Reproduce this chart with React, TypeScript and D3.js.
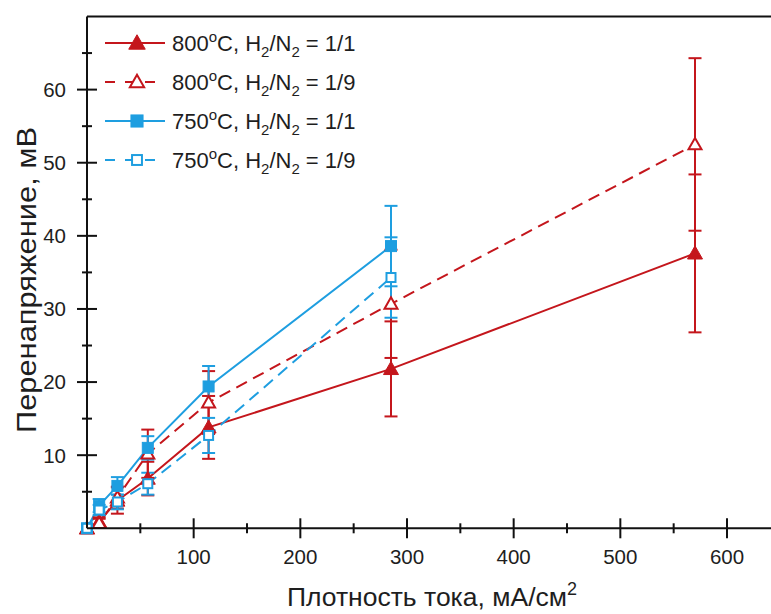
import React from "react";
import * as d3 from "d3";

// ---- data ----
const xValues = [0, 11.4, 28.5, 57, 114, 285, 570];

const red800_11 = [0, 0.9, 3.8, 6.8, 13.8, 21.8, 37.6];
const red800_11Err = [0, 0.6, 1.8, 2.3, 4.3, 6.5, 10.8];

const red800_19 = [0, 0.7, 4.2, 10.2, 17.2, 30.7, 52.5];
const red800_19Err = [0, 0.6, 1.5, 3.3, 4.3, 7.4, 11.8];

const blue750_11 = [0, 3.1, 5.8, 11.0, 19.4, 38.6];
const blue750_11Err = [0, 0.9, 1.2, 1.6, 2.8, 5.5];

const blue750_19 = [0, 2.5, 3.6, 6.1, 12.7, 34.3];
const blue750_19Err = [0, 0.7, 1.0, 1.5, 2.4, 5.5];

const xTicksMajor = [100, 200, 300, 400, 500, 600];
const xTicksMinor = [50, 150, 250, 350, 450, 550];
const yTicksMajor = [10, 20, 30, 40, 50, 60];
const yTicksMinor = [5, 15, 25, 35, 45, 55, 65];

const RED = "#c4161c";
const BLUE = "#1e9ee0";
const FONT = "'Liberation Sans', Arial, sans-serif";
const TXT = "#1e1e1e";

type Marker = "triFilled" | "triOpen" | "sqFilled" | "sqOpen";

const seriesList: {
  name: string;
  temp: string;
  ratio: string;
  ys: number[];
  errs: number[];
  color: string;
  dashed: boolean;
  marker: Marker;
}[] = [
  { name: "a", temp: "800", ratio: "1/1", ys: red800_11, errs: red800_11Err, color: RED, dashed: false, marker: "triFilled" },
  { name: "b", temp: "800", ratio: "1/9", ys: red800_19, errs: red800_19Err, color: RED, dashed: true, marker: "triOpen" },
  { name: "c", temp: "750", ratio: "1/1", ys: blue750_11, errs: blue750_11Err, color: BLUE, dashed: false, marker: "sqFilled" },
  { name: "d", temp: "750", ratio: "1/9", ys: blue750_19, errs: blue750_19Err, color: BLUE, dashed: true, marker: "sqOpen" },
];

const W = 771;
const H = 614;
const left = 87;
const right = 775;
const top = 16.5;
const bottom = 528.3;

const x = d3.scaleLinear().domain([0, 645]).range([left, right]);
const y = d3.scaleLinear().domain([0, 70]).range([bottom, top]);

function MarkerShape({ kind, cx, cy, color, scale = 1 }: { kind: Marker; cx: number; cy: number; color: string; scale?: number }) {
  if (kind === "triFilled" || kind === "triOpen") {
    const open = kind === "triOpen";
    const s = (open ? 6.5 : 7.5) * scale;
    const pts = `${cx},${cy - s * 1.0} ${cx - s},${cy + s * 0.75} ${cx + s},${cy + s * 0.75}`;
    return (
      <polygon
        points={pts}
        fill={open ? "#fff" : color}
        stroke={color}
        strokeWidth={open ? 2 : 1}
        strokeLinejoin="miter"
      />
    );
  }
  const open = kind === "sqOpen";
  const s = (open ? 4.5 : 5.5) * scale;
  return (
    <rect
      x={cx - s}
      y={cy - s}
      width={2 * s}
      height={2 * s}
      fill={open ? "#fff" : color}
      stroke={color}
      strokeWidth={open ? 2 : 1}
    />
  );
}

export default function App() {
  const line = d3
    .line<[number, number]>()
    .x((d) => x(d[0]))
    .y((d) => y(d[1]));

  const legendRows = [43, 82, 121, 160];

  return (
    <svg
      width={W}
      height={H}
      style={{ position: "absolute", left: 0, top: 0, background: "#fff" }}
      fontFamily={FONT}
    >
      <rect x={0} y={0} width={W} height={H} fill="#fff" />

      {/* lines */}
      {seriesList.map((s) => (
        <path
          key={"l" + s.name}
          d={line(s.ys.map((v, i) => [xValues[i], v] as [number, number])) || ""}
          fill="none"
          stroke={s.color}
          strokeWidth={2}
          strokeDasharray={s.dashed ? "12,7" : undefined}
        />
      ))}

      {/* error bars */}
      {seriesList.map((s) =>
        s.ys.map((v, i) => {
          if (i === 0) return null;
          const cx = x(xValues[i]);
          const y1 = y(v + s.errs[i]);
          const y2 = y(v - s.errs[i]);
          return (
            <g key={"e" + s.name + i} stroke={s.color} strokeWidth={2}>
              <line x1={cx} x2={cx} y1={y1} y2={y2} />
              <line x1={cx - 6.5} x2={cx + 6.5} y1={y1} y2={y1} />
              <line x1={cx - 6.5} x2={cx + 6.5} y1={y2} y2={y2} />
            </g>
          );
        })
      )}

      {/* markers */}
      {seriesList.map((s) =>
        s.ys.map((v, i) => (
          <MarkerShape
            key={"m" + s.name + i}
            kind={s.marker}
            cx={x(xValues[i])}
            cy={y(v)}
            color={s.color}
          />
        ))
      )}

      {/* frame / axes */}
      <line x1={left} x2={W} y1={top} y2={top} stroke="#111" strokeWidth={2} />
      <line x1={left} x2={left} y1={top} y2={bottom} stroke="#111" strokeWidth={2} />
      <line x1={left} x2={W} y1={bottom} y2={bottom} stroke="#111" strokeWidth={2} />

      {yTicksMajor.map((t) => (
        <g key={"yt" + t}>
          <line x1={left - 10} x2={left + 10} y1={y(t)} y2={y(t)} stroke="#111" strokeWidth={2} />
          <text x={left - 21} y={y(t)} dy="0.36em" textAnchor="end" fontSize={20.5} fill={TXT}>
            {t}
          </text>
        </g>
      ))}
      {yTicksMinor.map((t) => (
        <line key={"ym" + t} x1={left - 5} x2={left + 5} y1={y(t)} y2={y(t)} stroke="#111" strokeWidth={2} />
      ))}
      {xTicksMajor.map((t) => (
        <g key={"xt" + t}>
          <line x1={x(t)} x2={x(t)} y1={bottom - 10} y2={bottom + 10} stroke="#111" strokeWidth={2} />
          <text x={x(t)} y={bottom + 35.5} textAnchor="middle" fontSize={20.5} fill={TXT}>
            {t}
          </text>
        </g>
      ))}
      {xTicksMinor.map((t) => (
        <line key={"xm" + t} x1={x(t)} x2={x(t)} y1={bottom - 5} y2={bottom + 5} stroke="#111" strokeWidth={2} />
      ))}

      {/* axis titles */}
      <text x={287} y={606} textAnchor="start" fontSize={26} fill={TXT}>
        <tspan textLength={280} lengthAdjust="spacingAndGlyphs">Плотность тока, мА/см</tspan>
        <tspan dy={-11} fontSize={18}>2</tspan>
      </text>
      <text
        transform={`translate(35.5, 280) rotate(-90)`}
        textAnchor="middle"
        fontSize={27}
        fill={TXT}
        textLength={306}
        lengthAdjust="spacingAndGlyphs"
      >
        Перенапряжение, мВ
      </text>

      {/* legend */}
      {seriesList.map((s, i) => {
        const ly = legendRows[i];
        return (
          <g key={"lg" + s.name}>
            <line
              x1={105}
              x2={165}
              y1={ly}
              y2={ly}
              stroke={s.color}
              strokeWidth={2}
              strokeDasharray={s.dashed ? "10,10" : undefined}
            />
            <MarkerShape kind={s.marker} cx={137} cy={ly} color={s.color} scale={1.1} />
            <text x={172} y={ly} dy="0.36em" fontSize={22} fill={TXT}>
              {s.temp}
              <tspan dy={-9} fontSize={15}>o</tspan>
              <tspan dy={9}>C, H</tspan>
              <tspan dy={6} fontSize={15}>2</tspan>
              <tspan dy={-6}>/N</tspan>
              <tspan dy={6} fontSize={15}>2</tspan>
              <tspan dy={-6}>{" = " + s.ratio}</tspan>
            </text>
          </g>
        );
      })}
    </svg>
  );
}
